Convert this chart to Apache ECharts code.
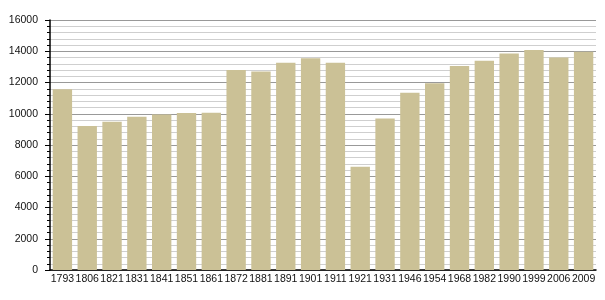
<!DOCTYPE html>
<html><head><meta charset="utf-8">
<script src="https://cdn.jsdelivr.net/npm/echarts@6/dist/echarts.min.js"></script>
<style>html,body{margin:0;padding:0;background:#fff}#c{width:605px;height:300px}</style>
</head><body><div id="c"></div>
<script>
var years = ['1793','1806','1821','1831','1841','1851','1861','1872','1881','1891','1901','1911','1921','1931','1946','1954','1968','1982','1990','1999','2006','2009'];
var population = [11570,9220,9490,9810,9960,10050,10060,12800,12700,13270,13550,13270,6610,9690,11350,11950,13050,13400,13850,14080,13600,13970];
var chart = echarts.init(document.getElementById('c'), null, {renderer:'canvas'});
chart.setOption({
  animation:false,
  grid:{left:50,right:9,top:20,bottom:30,containLabel:false},
  xAxis:{type:'category',data:years,
    axisLine:{lineStyle:{color:'#000',width:1.5}},
    axisTick:{show:false},
    axisLabel:{color:'#111',fontFamily:'Liberation Sans, Arial',fontSize:10.5,margin:4,interval:0}},
  yAxis:{type:'value',min:0,max:16000,interval:2000,
    axisLine:{show:true,lineStyle:{color:'#000',width:1.5}},
    axisTick:{show:true,length:5,lineStyle:{color:'#000'}},
    minorTick:{show:true,splitNumber:5,length:3,lineStyle:{color:'#000'}},
    splitLine:{show:true,lineStyle:{color:'#999',width:1}},
    minorSplitLine:{show:true,lineStyle:{color:'#cfcfcf',width:1}},
    axisLabel:{color:'#111',fontFamily:'Liberation Sans, Arial',fontSize:10.5,margin:12,
      formatter:function(v){return String(v);}}},
  series:[{type:'bar',data:population,barCategoryGap:'22%',
    itemStyle:{color:'#cbc196'}}]
});
</script></body></html>
